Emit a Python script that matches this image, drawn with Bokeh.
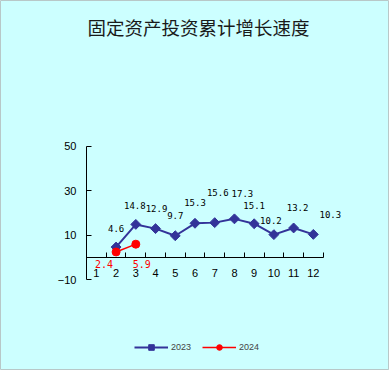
import math
from bokeh.plotting import figure
from bokeh.models import ColumnDataSource, FixedTicker, Legend, LegendItem, Label, Range1d
from bokeh.core.properties import value
from bokeh.embed import file_html
from bokeh.resources import INLINE

title_text = "固定资产投资累计增长速度"
month_ticks = list(range(1, 13))
month_labels = [str(m) for m in month_ticks]
months_2023 = [2, 3, 4, 5, 6, 7, 8, 9, 10, 11, 12]
growth_2023 = [4.6, 14.8, 12.9, 9.7, 15.3, 15.6, 17.3, 15.1, 10.2, 13.2, 10.3]
months_2024 = [2, 3]
growth_2024 = [2.4, 5.9]
y_ticks = [-10, 10, 30, 50]
series_names = ["2023", "2024"]

# label offsets in pixels (style only)
dx_2023 = [0, -1, 1, 0, 0, 3, 8, 0, -3, 4, 17]
dy_2023 = [-19, -19, -20, -20, -21, -30, -25, -18, -14, -20, -20]
dx_2024 = [-12, 6]
dy_2024 = [12, 20]

BG = "#CCFFFF"
BLUE = "#333399"
RED = "#FF0000"

W, H = 389, 370
# pixel placement of the plotting area inside the canvas
PX_L, PX_R, PX_T, PX_B = 86.0, 322.7, 145.7, 279.0
X0, X1 = 0.5, 12.5
Y0, Y1 = -10.0, 50.0
sx = (PX_R - PX_L) / (X1 - X0)
sy = (PX_B - PX_T) / (Y1 - Y0)
x_range = Range1d(X0 - PX_L / sx, X1 + (W - PX_R) / sx)
y_range = Range1d(Y0 - (H - PX_B) / sy, Y1 + PX_T / sy)

p = figure(width=W, height=H, x_range=x_range, y_range=y_range, title=None,
           output_backend="svg", toolbar_location=None, min_border=0,
           background_fill_color=BG, border_fill_color=BG,
           outline_line_color="#B8C8C8")
p.grid.visible = False

xa = p.xaxis[0]
xa.ticker = FixedTicker(ticks=month_ticks, minor_ticks=[m + 0.5 for m in month_ticks])
xa.major_label_overrides = {m: l for m, l in zip(month_ticks, month_labels)}
xa.fixed_location = 0
xa.bounds = (X0, X1)
xa.major_tick_in = 0
xa.major_tick_out = 0
xa.minor_tick_in = 5
xa.minor_tick_out = 0
xa.major_label_standoff = 12
xa.axis_line_color = "black"
xa.minor_tick_line_color = "black"
xa.major_label_text_font = "Liberation Sans"
xa.major_label_text_font_size = "11px"
xa.major_label_text_color = "black"

ya = p.yaxis[0]
ya.ticker = FixedTicker(ticks=y_ticks)
ya.fixed_location = X0
ya.bounds = (Y0, Y1)
ya.major_tick_in = 5
ya.major_tick_out = 0
ya.minor_tick_line_color = None
ya.major_label_standoff = 10
ya.axis_line_color = "black"
ya.major_tick_line_color = "black"
ya.major_label_text_font = "Liberation Sans"
ya.major_label_text_font_size = "11px"
ya.major_label_text_color = "black"

l1 = p.line(months_2023, growth_2023, line_color=BLUE, line_width=2)
s1 = p.scatter(months_2023, growth_2023, marker="square", angle=math.pi / 4, size=7,
               fill_color=BLUE, line_color=BLUE)
l2 = p.line(months_2024, growth_2024, line_color=RED, line_width=1.5)
s2 = p.scatter(months_2024, growth_2024, marker="circle", size=8, fill_color=RED, line_color=RED)

src1 = ColumnDataSource(dict(x=months_2023, y=growth_2023,
                             t=["%.1f" % v for v in growth_2023], dx=dx_2023, dy=dy_2023))
p.text(x="x", y="y", text="t", x_offset="dx", y_offset="dy", source=src1,
       text_align="center", text_baseline="middle", text_font=value("DejaVu Sans Mono"),
       text_font_size="9px", text_color="black")
src2 = ColumnDataSource(dict(x=months_2024, y=growth_2024,
                             t=["%.1f" % v for v in growth_2024], dx=dx_2024, dy=dy_2024))
p.text(x="x", y="y", text="t", x_offset="dx", y_offset="dy", source=src2,
       text_align="center", text_baseline="middle", text_font=value("DejaVu Sans Mono"),
       text_font_size="10px", text_color=RED)

legend = Legend(items=[LegendItem(label=series_names[0], renderers=[l1, s1]),
                       LegendItem(label=series_names[1], renderers=[l2, s2])],
                orientation="horizontal", location=(134, H - 354),
                background_fill_alpha=0, border_line_color=None,
                glyph_width=34, glyph_height=14, label_height=14,
                label_text_font_size="9px", label_text_font="Liberation Sans",
                spacing=11, padding=0, margin=0, label_standoff=3)
p.add_layout(legend)

title = Label(x=198, y=H - 26, x_units="screen", y_units="screen", text=title_text,
              text_align="center", text_baseline="middle", text_font_size="18.5px",
              text_font="Noto Sans CJK SC", text_color="#1a1a1a")
p.add_layout(title)

open("out.html", "w").write(file_html(p, INLINE))
